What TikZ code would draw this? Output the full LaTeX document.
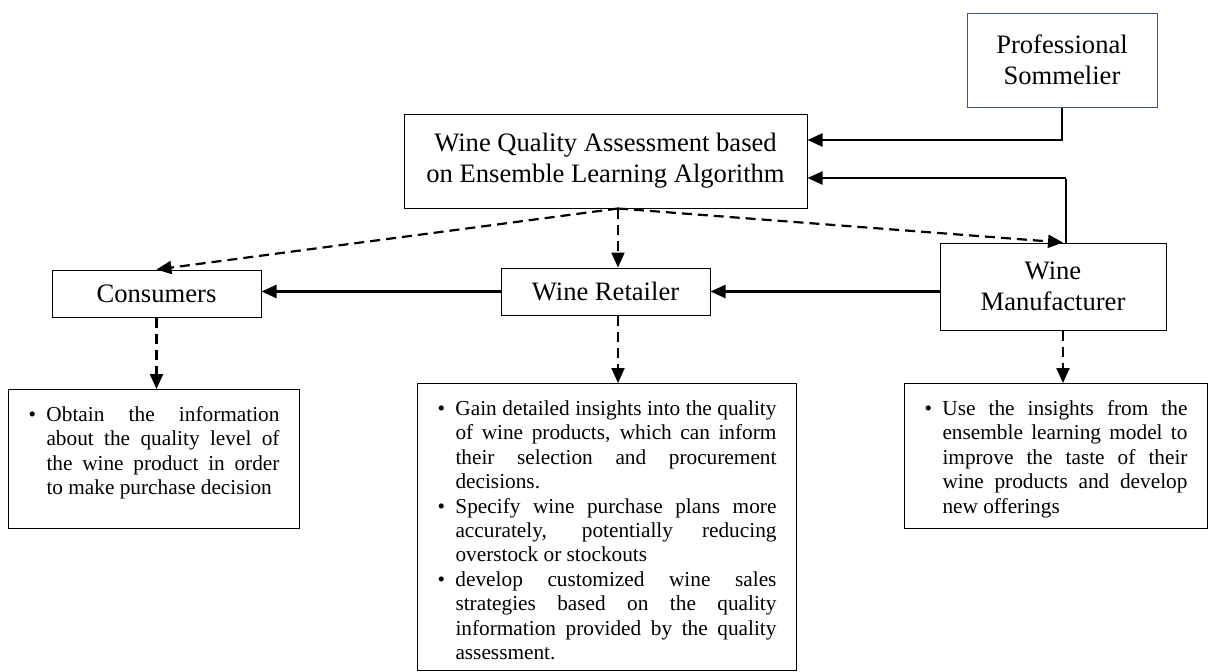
\documentclass[tikz,border=0pt]{standalone}
\usepackage{fontspec}
\setmainfont{Liberation Serif}
\usetikzlibrary{arrows.meta}
\definecolor{sombord}{RGB}{62,88,132}
\newcommand{\bpoint}{\hangindent=18pt\hangafter=1\makebox[18pt][l]{\textbullet}}

\begin{document}
\begin{tikzpicture}[x=1pt, y=-1pt, >={Triangle[length=15pt,width=13pt]}]
			\tikzset{%
				mybox/.style={rectangle, draw=black, line width=1pt, inner sep=0pt, align=center, font=\fontsize{26.6}{31}\selectfont},
				mytext/.style={rectangle, draw=black, line width=1pt, anchor=north west, inner xsep=20pt, inner ysep=4pt, align=justify, text height=28pt, font=\fontsize{21.3}{24.4}\selectfont},
				solidarrow/.style={->, line width=2.3pt},
				dasharrow/.style={->, line width=2.2pt, dash pattern=on 10pt off 6pt},
				thinline/.style={line width=1.3pt}
			}
			\useasboundingbox (0,0) rectangle (1208,672);
			\node[mybox, draw=sombord, minimum width=190pt, minimum height=94pt](som) at (1062,60){Professional\\Sommelier};
			\node[mybox, minimum width=403pt, minimum height=94pt](wqa) at (605.5,161){Wine Quality Assessment based\\on Ensemble Learning Algorithm};
			\node[mybox, minimum width=209pt, minimum height=47pt](con) at (156.5,293.5){Consumers};
			\node[mybox, minimum width=209pt, minimum height=47pt](ret) at (605.5,291.5){Wine Retailer};
			\node[mybox, minimum width=226pt, minimum height=87pt](man) at (1053,286.5){Wine\\Manufacturer};
			\node[mytext, text width=251pt, text depth=103pt](conTxt) at (8,389){\bpoint Obtain the information\linebreak about the quality level of\linebreak the wine product in order\linebreak to make purchase decision\par};
			\node[mytext, text width=339pt, text depth=251pt](retTxt) at (417,383){\bpoint Gain detailed insights into the quality\linebreak of wine products, which can inform\linebreak their selection and procurement\linebreak decisions.\par
				\bpoint Specify wine purchase plans more\linebreak accurately, potentially reducing\linebreak overstock or stockouts\par
				\bpoint develop customized wine sales\linebreak strategies based on the quality\linebreak information provided by the quality\linebreak assessment.\par};
			\node[mytext, text width=263pt, text depth=109pt](manTxt) at (904,383){\bpoint Use the insights from the\linebreak ensemble learning model to\linebreak improve the taste of their\linebreak wine products and develop\linebreak new offerings\par};
			\coordinate (sa) at (1062,140);
			\coordinate (mb) at (1066,178);
			\coordinate (fork) at ([xshift=12.5pt]wqa.south);
			\coordinate (mt) at ([xshift=10pt]man.north);
			\coordinate (md) at ([xshift=10pt]man.south);
			\draw[thinline] (som.south) -- ([yshift=-0.6pt]sa);
			\draw[solidarrow] (sa) -- (wqa.east |- sa);
			\draw[thinline] (man.north -| mb) -- ([yshift=-0.6pt]mb);
			\draw[solidarrow] (mb) -- (wqa.east |- mb);
			\draw[dasharrow] (fork) -- (con.north);
			\draw[dasharrow] (fork) -- (fork |- ret.north);
			\draw[dasharrow] (fork) -- (mt);
			\draw[solidarrow] (ret.west) -- (con.east |- ret.west);
			\draw[solidarrow] (man.west |- ret) -- (ret.east);
			\draw[dasharrow] (con.south) -- (con.south |- conTxt.north);
			\draw[dasharrow] (fork |- ret.south) -- (fork |- retTxt.north);
			\draw[dasharrow] (md) -- (md |- manTxt.north);
		\end{tikzpicture}
\end{document}
